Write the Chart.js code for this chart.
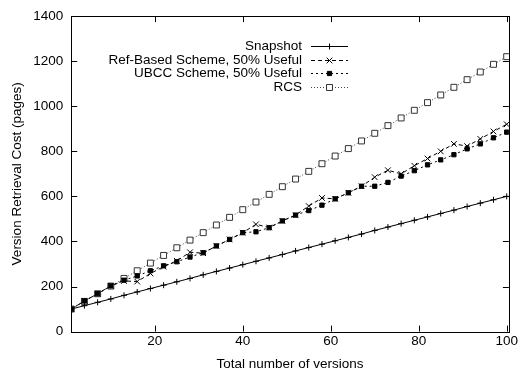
<!DOCTYPE html>
<html>
<head>
<meta charset="utf-8">
<script src="https://cdn.jsdelivr.net/npm/chart.js@4"></script>
<style>
  body { margin: 0; background: #fff; }
  #wrap { width: 520px; height: 374px; }
</style>
</head>
<body>
<div id="wrap"><canvas id="costChart" width="520" height="374"></canvas></div>
<script>
// versions sampled every 3
const versions = [1, 4, 7, 10, 13, 16, 19, 22, 25, 28, 31, 34, 37, 40, 43, 46, 49, 52, 55, 58, 61, 64, 67, 70, 73, 76, 79, 82, 85, 88, 91, 94, 97, 100];

const snapshotCost = [100, 115, 130, 145, 161, 176, 191, 206, 221, 236, 252, 267, 282, 297, 312, 327, 342, 358, 373, 388, 403, 418, 433, 449, 464, 479, 494, 509, 524, 539, 555, 570, 585, 600];
const refBasedCost = [100, 136, 168, 203, 225, 222, 258, 288, 314, 352, 348, 380, 409, 439, 476, 462, 491, 517, 557, 593, 589, 616, 645, 685, 716, 700, 736, 768, 800, 833, 823, 855, 888, 920];
const ubccCost = [100, 136, 168, 203, 228, 247, 270, 292, 310, 331, 350, 380, 409, 439, 443, 461, 491, 517, 537, 561, 589, 616, 645, 645, 662, 690, 714, 740, 762, 785, 811, 833, 860, 885];
const rcsCost = [100, 134, 168, 202, 236, 270, 304, 338, 372, 406, 439, 473, 507, 541, 575, 609, 643, 677, 711, 745, 779, 812, 846, 880, 914, 948, 982, 1016, 1050, 1084, 1118, 1152, 1186, 1220];

const seriesNames = ['Snapshot', 'Ref-Based Scheme, 50% Useful', 'UBCC Scheme, 50% Useful', 'RCS'];
const xTicks = [20, 40, 60, 80, 100];
const yTicks = [0, 200, 400, 600, 800, 1000, 1200, 1400];

const toPoints = arr => versions.map((v, i) => ({ x: v, y: arr[i] }));
const FONT = { family: '"Liberation Sans", Arial, sans-serif', size: 13.5 };

// gnuplot style box with inward ticks on all four sides
const boxPlugin = {
  id: 'box',
  afterDraw(chart) {
    const { ctx, chartArea: a, scales } = chart;
    ctx.save();
    ctx.strokeStyle = '#000';
    ctx.lineWidth = 1;
    ctx.setLineDash([]);
    ctx.strokeRect(Math.round(a.left) + 0.5, Math.round(a.top) + 0.5, Math.round(a.right - a.left), Math.round(a.bottom - a.top));
    ctx.beginPath();
    xTicks.forEach(v => {
      const x = Math.round(scales.x.getPixelForValue(v)) + 0.5;
      ctx.moveTo(x, a.bottom); ctx.lineTo(x, a.bottom - 6);
      ctx.moveTo(x, a.top); ctx.lineTo(x, a.top + 6);
    });
    yTicks.forEach(v => {
      const y = Math.round(scales.y.getPixelForValue(v)) + 0.5;
      ctx.moveTo(a.left, y); ctx.lineTo(a.left + 6, y);
      ctx.moveTo(a.right, y); ctx.lineTo(a.right - 6, y);
    });
    ctx.stroke();
    ctx.restore();
  }
};

// legend: right aligned text, sample line on the right
const keyPlugin = {
  id: 'key',
  afterDatasetsDraw(chart) {
    const { ctx } = chart;
    const textRight = 302, lineL = 311, lineR = 348, top = 46, step = 13.7;
    ctx.save();
    ctx.font = FONT.size + 'px ' + FONT.family;
    ctx.textAlign = 'right';
    ctx.textBaseline = 'middle';
    chart.data.datasets.forEach((ds, i) => {
      const y = Math.round(top + i * step);
      ctx.fillStyle = '#000';
      ctx.fillText(ds.label, textRight, y);
      ctx.beginPath();
      ctx.strokeStyle = ds.borderColor;
      ctx.lineWidth = ds.borderWidth;
      ctx.setLineDash(ds.borderDash || []);
      ctx.moveTo(lineL, y + 0.5);
      ctx.lineTo(lineR, y + 0.5);
      ctx.stroke();
      ctx.setLineDash([]);
      ctx.fillStyle = ds.pointBackgroundColor;
      ctx.strokeStyle = ds.pointBorderColor;
      ctx.lineWidth = 1;
      Chart.helpers.drawPoint(ctx, { pointStyle: ds.pointStyle, radius: ds.pointRadius, borderWidth: 1, rotation: 0 }, (lineL + lineR) / 2, y + 0.5);
    });
    ctx.restore();
  }
};

const ctx = document.getElementById('costChart').getContext('2d');
new Chart(ctx, {
  type: 'line',
  data: {
    datasets: [
      {
        label: seriesNames[0], data: toPoints(snapshotCost),
        borderColor: '#000', borderWidth: 1,
        pointStyle: 'cross', pointRadius: 3, pointBorderColor: '#000', pointBackgroundColor: '#000'
      },
      {
        label: seriesNames[1], data: toPoints(refBasedCost),
        borderColor: '#000', borderWidth: 1, borderDash: [4, 3],
        pointStyle: 'crossRot', pointRadius: 4, pointBorderColor: '#000', pointBackgroundColor: '#000'
      },
      {
        label: seriesNames[2], data: toPoints(ubccCost),
        borderColor: '#000', borderWidth: 1, borderDash: [2, 3],
        pointStyle: 'rect', pointRadius: 3, pointBorderColor: '#000', pointBackgroundColor: '#000'
      },
      {
        label: seriesNames[3], data: toPoints(rcsCost),
        borderColor: '#444', borderWidth: 1, borderDash: [1, 2],
        pointStyle: 'rect', pointRadius: 4.2, pointBorderColor: '#333', pointBackgroundColor: '#fff'
      }
    ]
  },
  options: {
    responsive: false,
    animation: false,
    layout: { padding: { top: 11, right: 8, left: 3, bottom: 2 } },
    plugins: { legend: { display: false }, tooltip: { enabled: false } },
    elements: { line: { tension: 0 } },
    scales: {
      x: {
        type: 'linear', min: 1, max: 100.5,
        afterBuildTicks: s => { s.ticks = xTicks.map(v => ({ value: v })); },
        grid: { display: false, drawTicks: false },
        border: { display: false },
        ticks: { color: '#000', font: FONT, padding: 2, maxRotation: 0 },
        title: { display: true, text: 'Total number of versions', color: '#000', font: FONT, padding: { top: 4, bottom: 0 } }
      },
      y: {
        min: 0, max: 1400,
        afterBuildTicks: s => { s.ticks = yTicks.map(v => ({ value: v })); },
        grid: { display: false, drawTicks: false },
        border: { display: false },
        ticks: { color: '#000', font: FONT, padding: 8, callback: v => String(v) },
        title: { display: true, text: 'Version Retrieval Cost (pages)', color: '#000', font: FONT, padding: { top: 6, bottom: 0 } }
      }
    }
  },
  plugins: [boxPlugin, keyPlugin]
});
</script>
</body>
</html>
